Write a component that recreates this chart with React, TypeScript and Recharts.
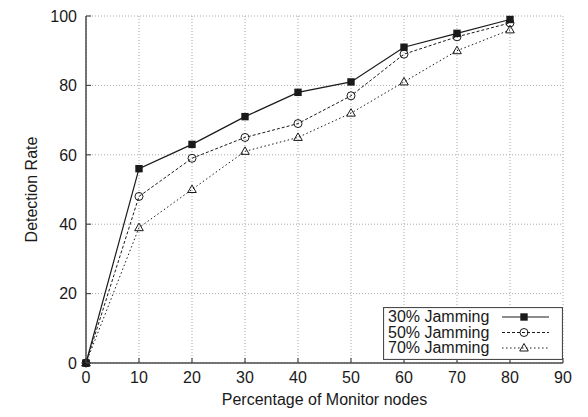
import React from 'react';
import { LineChart, Line, XAxis, YAxis, CartesianGrid, Legend } from 'recharts';

const percentages = [0, 10, 20, 30, 40, 50, 60, 70, 80];
const jam30 = [0, 56, 63, 71, 78, 81, 91, 95, 99];
const jam50 = [0, 48, 59, 65, 69, 77, 89, 94, 98];
const jam70 = [0, 39, 50, 61, 65, 72, 81, 90, 96];
const xTicks = [0, 10, 20, 30, 40, 50, 60, 70, 80, 90];
const yTicks = [0, 20, 40, 60, 80, 100];
const seriesNames = ['30% Jamming', '50% Jamming', '70% Jamming'];

const data = percentages.map((p, i) => ({ x: p, j30: jam30[i], j50: jam50[i], j70: jam70[i] }));

const FONT = '"Liberation Sans", Arial, Helvetica, sans-serif';
const INK = '#1a1a1a';
const FRAME = '#4a4a4a';
const TICK_LEN = 5;

const Square = ({ cx, cy }: any) => (
  <rect x={cx - 3.7} y={cy - 3.7} width={7.4} height={7.4} fill={INK} />
);
const Circle = ({ cx, cy }: any) => (
  <circle cx={cx} cy={cy} r={4} fill="none" stroke={INK} strokeWidth={1} />
);
const Triangle = ({ cx, cy }: any) => (
  <polygon
    points={`${cx},${cy - 4.5} ${cx - 4.3},${cy + 3} ${cx + 4.3},${cy + 3}`}
    fill="none"
    stroke={INK}
    strokeWidth={1}
  />
);

const BottomTick = ({ x, y, payload }: any) => (
  <g>
    <line x1={x} y1={y} x2={x} y2={y - TICK_LEN} stroke={FRAME} strokeWidth={1.2} />
    <text x={x} y={y + 20} textAnchor="middle" fontSize={16} fontFamily={FONT} fill={INK}>
      {payload.value}
    </text>
  </g>
);
const TopTick = ({ x, y }: any) => (
  <line x1={x} y1={y} x2={x} y2={y + TICK_LEN} stroke={FRAME} strokeWidth={1.2} />
);
const LeftTick = ({ x, y, payload }: any) => (
  <g>
    <line x1={x} y1={y} x2={x + TICK_LEN} y2={y} stroke={FRAME} strokeWidth={1.2} />
    <text x={x - 9} y={y} dy="0.36em" textAnchor="end" fontSize={16} fontFamily={FONT} fill={INK}>
      {payload.value}
    </text>
  </g>
);
const RightTick = ({ x, y }: any) => (
  <line x1={x} y1={y} x2={x - TICK_LEN} y2={y} stroke={FRAME} strokeWidth={1.2} />
);

const legendStyles = [
  { dash: undefined, Marker: Square },
  { dash: '3 2', Marker: Circle },
  { dash: '1.5 2.5', Marker: Triangle },
];

const LegendBox = () => (
  <svg width={180} height={53} style={{ display: 'block' }}>
    <rect x={0.5} y={0.5} width={179} height={52} fill="#fff" stroke={FRAME} strokeWidth={1.2} />
    {seriesNames.map((name, i) => {
      const yBase = 15 + i * 15.5;
      const yMid = yBase - 5;
      const { dash, Marker } = legendStyles[i];
      return (
        <g key={name}>
          <text x={5} y={yBase} fontSize={16} fontFamily={FONT} fill={INK}>
            {name}
          </text>
          <line x1={119} y1={yMid} x2={166} y2={yMid} stroke={INK} strokeWidth={1} strokeDasharray={dash} />
          <Marker cx={141} cy={yMid} />
        </g>
      );
    })}
  </svg>
);

export default function App() {
  return (
    <LineChart
      width={580}
      height={409}
      data={data}
      margin={{ top: 8, right: 25, bottom: 24, left: 38 }}
      style={{ fontFamily: FONT }}
    >
      <CartesianGrid stroke="#a8a8a8" strokeDasharray="1 2" strokeWidth={1} />
      <XAxis
        dataKey="x"
        type="number"
        domain={[0, 90]}
        ticks={xTicks}
        interval={0}
        height={30}
        tickSize={0}
        tickMargin={0}
        axisLine={{ stroke: FRAME, strokeWidth: 1.5 }}
        tickLine={false}
        tick={<BottomTick />}
        label={{
          content: () => (
            <text x={316.5} y={397} textAnchor="middle" fontSize={16} fontFamily={FONT} fill={INK}>
              Percentage of Monitor nodes
            </text>
          ),
        }}
      />
      <XAxis
        xAxisId="top"
        orientation="top"
        type="number"
        domain={[0, 90]}
        ticks={xTicks}
        interval={0}
        height={0}
        tickSize={0}
        tickMargin={0}
        axisLine={{ stroke: FRAME, strokeWidth: 1.5 }}
        tickLine={false}
        tick={<TopTick />}
      />
      <YAxis
        type="number"
        domain={[0, 100]}
        ticks={yTicks}
        interval={0}
        width={40}
        tickSize={0}
        tickMargin={0}
        axisLine={{ stroke: FRAME, strokeWidth: 1.5 }}
        tickLine={false}
        tick={<LeftTick />}
        label={{
          content: () => (
            <text
              x={23}
              y={181.5}
              transform="rotate(-90 23 181.5)"
              textAnchor="middle"
              dominantBaseline="central"
              fontSize={16}
              fontFamily={FONT}
              fill={INK}
            >
              Detection Rate
            </text>
          ),
        }}
      />
      <YAxis
        yAxisId="right"
        orientation="right"
        type="number"
        domain={[0, 100]}
        ticks={yTicks}
        interval={0}
        width={0}
        tickSize={0}
        tickMargin={0}
        axisLine={{ stroke: FRAME, strokeWidth: 1.5 }}
        tickLine={false}
        tick={<RightTick />}
      />
      <Legend
        layout="horizontal"
        verticalAlign="middle"
        align="center"
        wrapperStyle={{ left: 375, top: 299, width: 180, height: 53 }}
        content={() => <LegendBox />}
      />
      <Line
        dataKey="j70"
        name={seriesNames[2]}
        stroke={INK}
        strokeWidth={1}
        strokeDasharray="1.5 2.5"
        isAnimationActive={false}
        dot={(p: any) => <Triangle key={`t${p.index}`} cx={p.cx} cy={p.cy} />}
        activeDot={false}
      />
      <Line
        dataKey="j50"
        name={seriesNames[1]}
        stroke={INK}
        strokeWidth={1}
        strokeDasharray="3 2"
        isAnimationActive={false}
        dot={(p: any) => <Circle key={`c${p.index}`} cx={p.cx} cy={p.cy} />}
        activeDot={false}
      />
      <Line
        dataKey="j30"
        name={seriesNames[0]}
        stroke={INK}
        strokeWidth={1.2}
        isAnimationActive={false}
        dot={(p: any) => <Square key={`s${p.index}`} cx={p.cx} cy={p.cy} />}
        activeDot={false}
      />
    </LineChart>
  );
}
